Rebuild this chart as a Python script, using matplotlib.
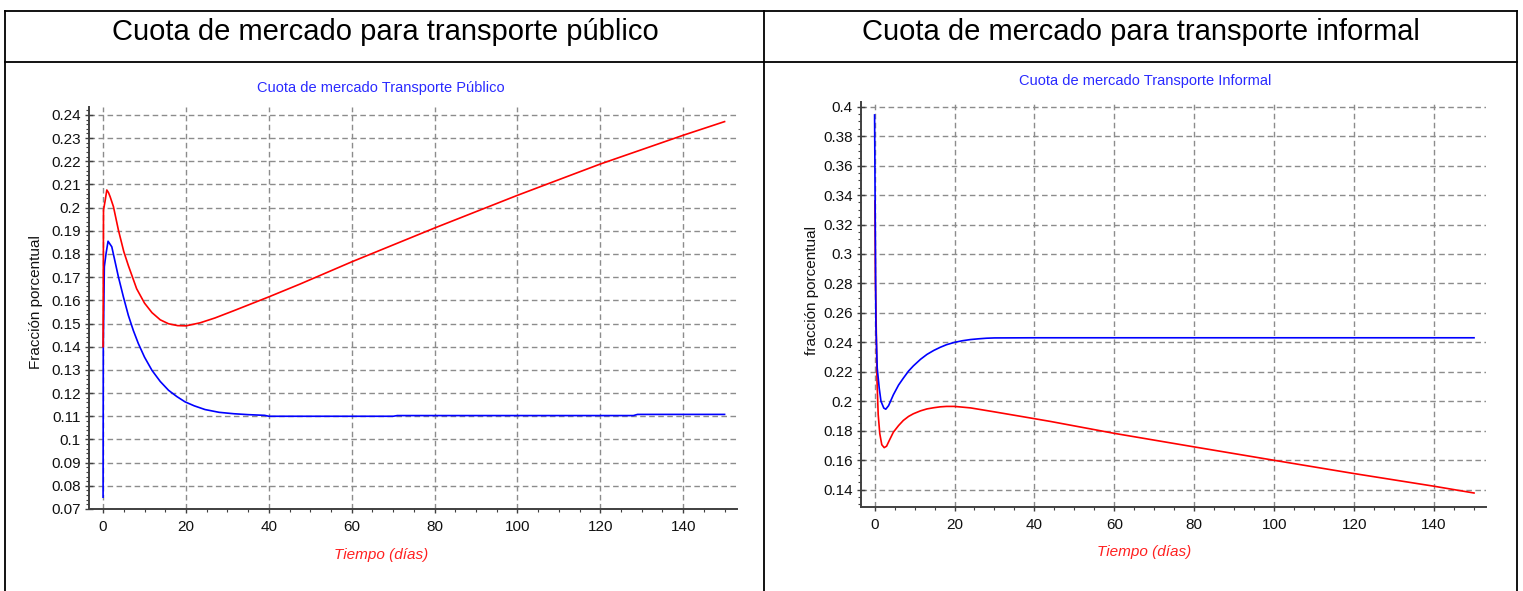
import numpy as np
import matplotlib
matplotlib.use("Agg")
import matplotlib.pyplot as plt
from matplotlib.ticker import MultipleLocator, FormatStrFormatter
from matplotlib.lines import Line2D

plt.rcParams['font.family'] = ['Liberation Sans', 'DejaVu Sans']

# --- transporte publico ---
t_pub_rojo = [0, 0.1, 0.5, 0.9, 1.3, 1.7, 2.5, 3.7, 5.0, 6.1, 8.1, 10.0, 11.8, 13.8,
              15.8, 18.0, 20.0, 23.4, 27.0, 31.5, 40.0, 47.5, 60, 80, 100, 120, 140, 150]
pub_rojo = [0.140, 0.199, 0.203, 0.2076, 0.2065, 0.2047, 0.2004, 0.1903, 0.1810, 0.1750,
            0.1650, 0.1588, 0.1547, 0.1516, 0.1499, 0.1491, 0.1490, 0.1503, 0.1524, 0.1555,
            0.1615, 0.1670, 0.1766, 0.1912, 0.2053, 0.2188, 0.2312, 0.2371]

t_pub_azul = [0, 0.05, 0.3, 0.7, 1.2, 2.1, 3.7, 4.9, 6.1, 7.3, 8.5, 10.0, 11.8, 13.8, 15.8,
              17.8, 19.8, 22.0, 24.6, 28.0, 31.5, 35.0, 39.0, 40.0, 70, 71, 128, 129, 150]
pub_azul = [0.0751, 0.140, 0.1745, 0.1800, 0.1855, 0.1831, 0.1701, 0.1615, 0.1535, 0.1470,
            0.1414, 0.1355, 0.1298, 0.1250, 0.1212, 0.1185, 0.1162, 0.1145, 0.1129, 0.1117,
            0.1111, 0.1107, 0.1104, 0.1100, 0.1100, 0.1103, 0.1103, 0.1108, 0.1108]

# --- transporte informal ---
t_inf_rojo = [0.1, 0.2, 0.4, 0.6, 0.9, 1.3, 1.8, 2.4, 3.0, 3.7, 4.7, 6.0, 7.2, 8.5, 9.7,
              11.5, 13.1, 14.8, 16.4, 18, 20, 24, 30, 38, 44, 60, 80, 100, 120, 140, 150]
inf_rojo = [0.336, 0.284, 0.252, 0.2146, 0.191, 0.178, 0.1705, 0.1685, 0.1695, 0.1735,
            0.1790, 0.1835, 0.1870, 0.1897, 0.1915, 0.1935, 0.1948, 0.1956, 0.1962, 0.1965,
            0.1965, 0.1955, 0.1928, 0.1891, 0.1863, 0.1782, 0.1690, 0.1599, 0.1509, 0.1423,
            0.1377]

t_inf_azul = [0, 0.33, 0.66, 1.16, 1.6, 2.3, 2.8, 3.5, 4.7, 6.0, 7.2, 8.5, 9.7, 11.5, 13.1,
              14.8, 16.4, 18, 20, 22, 24, 26, 28, 30, 40, 150]
inf_azul = [0.3944, 0.252, 0.2225, 0.2089, 0.2000, 0.1954, 0.1946, 0.1970, 0.2044, 0.2110,
            0.2157, 0.2205, 0.2240, 0.2285, 0.2318, 0.2345, 0.2366, 0.2384, 0.2400, 0.2411,
            0.2419, 0.2424, 0.2428, 0.2430, 0.2431, 0.2431]

x_ticks = [0, 20, 40, 60, 80, 100, 120, 140]
y_ticks_pub = [0.07, 0.08, 0.09, 0.10, 0.11, 0.12, 0.13, 0.14, 0.15, 0.16, 0.17, 0.18,
               0.19, 0.20, 0.21, 0.22, 0.23, 0.24]
y_ticks_inf = [0.14, 0.16, 0.18, 0.20, 0.22, 0.24, 0.26, 0.28, 0.30, 0.32, 0.34, 0.36,
               0.38, 0.40]

W, H = 1523, 591
fig = plt.figure(figsize=(W / 100, H / 100), dpi=100)
fig.patch.set_facecolor("white")


def px(x, y):
    return x / W, 1 - y / H


def estilo(ax, yticks, ymin, ymax, ystep_minor):
    ax.set_xlim(-3.4, 153)
    ax.set_ylim(ymin, ymax)
    ax.set_xticks(x_ticks)
    ax.set_yticks(yticks)
    ax.xaxis.set_minor_locator(MultipleLocator(5))
    ax.yaxis.set_minor_locator(MultipleLocator(ystep_minor))
    ax.yaxis.set_major_formatter(FormatStrFormatter('%g'))
    for s in ["top", "right"]:
        ax.spines[s].set_visible(False)
    for s in ["left", "bottom"]:
        ax.spines[s].set_color("#404040")
        ax.spines[s].set_linewidth(1.4)
    ax.tick_params(axis="y", which="major", direction="inout", length=6, width=1,
                   color="#404040", labelsize=11, pad=3, labelcolor="#111111")
    ax.tick_params(axis="y", which="minor", direction="out", length=2.5, width=0.8,
                   color="#404040")
    ax.tick_params(axis="x", which="major", direction="out", length=3, width=1,
                   color="#404040", labelsize=11, pad=5, labelcolor="#111111")
    ax.tick_params(axis="x", which="minor", direction="out", length=2.5, width=0.8,
                   color="#404040")
    ax.grid(True, which="major", linestyle=(0, (4, 2.5)), color="#8c8c8c", linewidth=1)
    ax.set_axisbelow(True)


# grafico izquierdo
ax1 = fig.add_axes([89 / W, 1 - 509 / H, 648 / W, 402 / H])
estilo(ax1, y_ticks_pub, 0.07, 0.2434, 0.002)
ax1.plot(t_pub_azul, pub_azul, color="#0000ff", lw=1.2)
ax1.plot(t_pub_rojo, pub_rojo, color="#ff0000", lw=1.2)

# grafico derecho
ax2 = fig.add_axes([861 / W, 1 - 507 / H, 625 / W, 405.3 / H])
estilo(ax2, y_ticks_inf, 0.1282, 0.4034, 0.005)
ax2.plot(t_inf_rojo, inf_rojo, color="#ff0000", lw=1.2)
ax2.plot(t_inf_azul, inf_azul, color="#0000ff", lw=1.2)

# titulos y etiquetas
fig.text(*px(381, 88), "Cuota de mercado Transporte Público", color="#2a2aff",
         fontsize=10.5, ha="center", va="center")
fig.text(*px(1145, 81), "Cuota de mercado Transporte Informal", color="#2a2aff",
         fontsize=10.5, ha="center", va="center")
fig.text(*px(381, 555), "Tiempo (días)", color="#ff2020", fontsize=11,
         style="italic", ha="center", va="center")
fig.text(*px(1144, 552), "Tiempo (días)", color="#ff2020", fontsize=11,
         style="italic", ha="center", va="center")
fig.text(*px(36, 302), "Fracción porcentual", rotation=90, fontsize=11,
         ha="center", va="center", color="#111111")
fig.text(*px(812, 290), "fracción porcentual", rotation=90, fontsize=11,
         ha="center", va="center", color="#111111")

fig.text(*px(385, 32), "Cuota de mercado para transporte público", fontsize=21,
         ha="center", va="center", color="black")
fig.text(*px(1141, 32), "Cuota de mercado para transporte informal", fontsize=21,
         ha="center", va="center", color="black")

# bordes de la tabla
bordes = [((5, 5), (11, 591)), ((764, 764), (11, 591)), ((1517, 1517), (11, 591)),
          ((5, 1517), (11, 11)), ((5, 1517), (62, 62))]
for xs, ys in bordes:
    fig.add_artist(Line2D([x / W for x in xs], [1 - y / H for y in ys],
                          color="black", lw=1.3))

fig.savefig("out.png", dpi=100)
